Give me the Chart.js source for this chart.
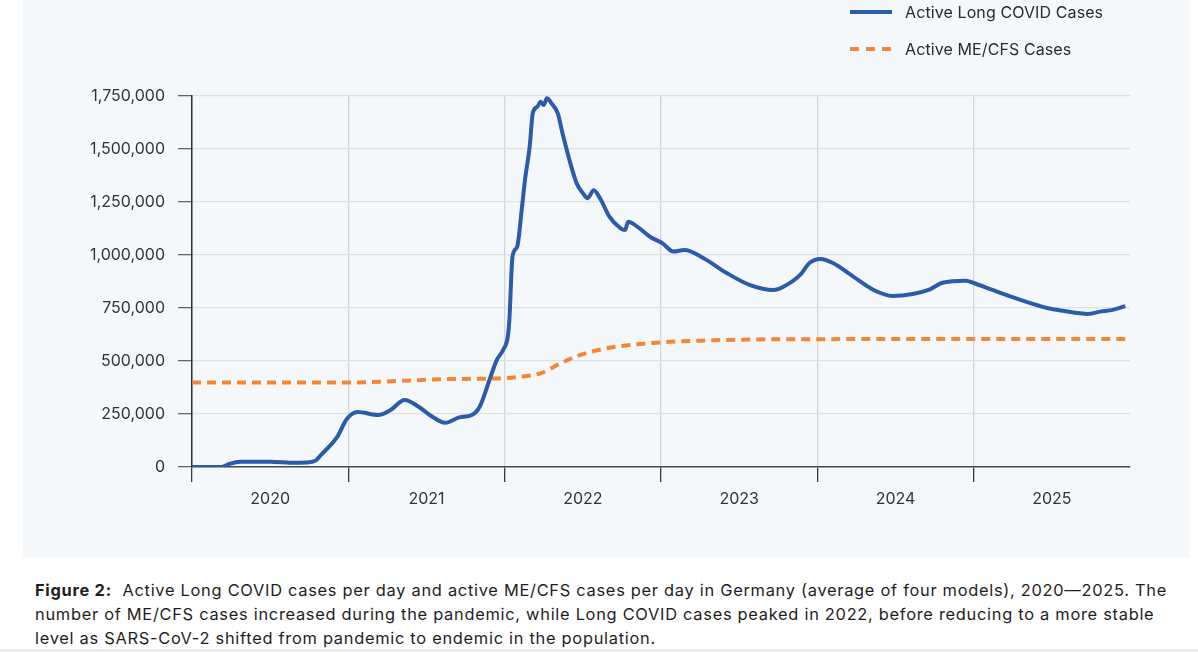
<!DOCTYPE html>
<html>
<head>
<meta charset="utf-8">
<script src="https://cdn.jsdelivr.net/npm/chart.js@4.4.1/dist/chart.umd.min.js"></script>
<style>
  html, body { margin: 0; padding: 0; background: #ffffff; }
  body { width: 1198px; height: 652px; position: relative; overflow: hidden; font-family: Inter, "Noto Sans", sans-serif; }
  #panel { position: absolute; left: 23px; top: 0; width: 1166px; height: 557px; background: #f5f8fa; }
  #chart { position: absolute; left: 0; top: 0; }
  .leg { position: absolute; left: 882px; font-size: 16px; color: #2b2b2b; white-space: nowrap; letter-spacing: 0.1px; }
  .legline { position: absolute; left: 827px; width: 42px; height: 4px; }
  #caption { position: absolute; left: 35px; top: 578px; font-size: 16.4px; letter-spacing: 0.72px; line-height: 24px; color: #1e1e1e; white-space: nowrap; }
  #bottomline { position: absolute; left: 0; top: 649px; width: 1198px; height: 3px; background: #ececec; }
</style>
</head>
<body>
<div id="panel">
  <canvas id="chart" width="1166" height="557"></canvas>
  <div class="legline" style="top:10px;background:#2a5caa;"></div>
  <div class="leg" style="top:2px;">Active Long COVID Cases</div>
  <div class="legline" style="top:47px;background:repeating-linear-gradient(90deg,#f58634 0 9px,transparent 9px 16px);"></div>
  <div class="leg" style="top:39px;">Active ME/CFS Cases</div>
</div>
<div id="caption"><b>Figure 2:</b>&nbsp; Active Long COVID cases per day and active ME/CFS cases per day in Germany (average of four models), 2020—2025. The<br>number of ME/CFS cases increased during the pandemic, while Long COVID cases peaked in 2022, before reducing to a more stable<br>level as SARS-CoV-2 shifted from pandemic to endemic in the population.</div>
<div id="bottomline"></div>
<script>
// ---- data (decimal years, values) ----
const lcYears = [2020.00,2020.19,2020.24,2020.31,2020.50,2020.66,2020.75,2020.79,2020.82,2020.93,2020.99,
  2021.06,2021.19,2021.27,2021.36,2021.45,2021.54,2021.62,2021.71,2021.79,2021.84,2021.91,2021.95,2021.99,
  2022.02,2022.03,2022.05,2022.08,2022.11,2022.13,2022.16,2022.18,2022.21,2022.23,2022.25,2022.27,2022.30,
  2022.34,2022.37,2022.42,2022.46,2022.50,2022.53,2022.57,2022.61,2022.67,2022.74,2022.77,2022.79,2022.85,
  2022.93,2023.01,2023.08,2023.15,2023.27,2023.42,2023.57,2023.72,2023.78,2023.89,2023.95,2024.02,2024.10,
  2024.23,2024.36,2024.48,2024.61,2024.72,2024.80,2024.95,2025.00,2025.12,2025.30,2025.47,2025.57,2025.73,
  2025.81,2025.89,2025.97];
const lcValues = [0,0,15000,25000,25000,20000,22000,30000,53000,143000,226000,
  259000,245000,269000,316000,284000,236000,209000,234000,245000,284000,426000,505000,552000,
  615000,693000,992000,1039000,1220000,1354000,1511000,1670000,1700000,1723000,1707000,1739000,1715000,
  1668000,1574000,1433000,1339000,1292000,1268000,1306000,1268000,1181000,1127000,1118000,1157000,1133000,
  1086000,1055000,1016000,1024000,986000,915000,858000,835000,849000,906000,962000,981000,962000,
  898000,835000,807000,816000,838000,869000,879000,868000,835000,788000,750000,737000,722000,
  733000,741000,759000];
const meYears = [2020.00,2020.50,2021.00,2021.33,2021.65,2021.97,2022.10,2022.23,2022.36,2022.49,2022.62,2022.74,2022.87,2023.00,2023.25,2023.63,2024.00,2025.00,2025.97];
const meValues = [398000,398000,398000,406000,415000,418000,426000,442000,490000,530000,555000,570000,580000,588000,596000,602000,603000,604000,604000];
const yearTicks = [2020,2020.5,2021,2021.5,2022,2022.5,2023,2023.5,2024,2024.5,2025,2025.5,2026];
const yTicks = [0,250000,500000,750000,1000000,1250000,1500000,1750000];

const FONT = { family: 'Inter, "Noto Sans", sans-serif', size: 16 };
const isInt = v => Math.abs(v - Math.round(v)) < 1e-6;

new Chart(document.getElementById('chart'), {
  type: 'line',
  data: {
    datasets: [
      {
        label: 'Active Long COVID Cases',
        data: lcYears.map((x, i) => ({ x, y: lcValues[i] })),
        borderColor: '#2a5caa', borderWidth: 4, pointRadius: 0,
        cubicInterpolationMode: 'monotone', fill: false
      },
      {
        label: 'Active ME/CFS Cases',
        data: meYears.map((x, i) => ({ x, y: meValues[i] })),
        borderColor: '#f58634', borderWidth: 4, borderDash: [9, 6], pointRadius: 0,
        cubicInterpolationMode: 'monotone', fill: false
      }
    ]
  },
  options: {
    responsive: false, animation: false, devicePixelRatio: 1,
    layout: { padding: { top: 96, right: 59, left: 0, bottom: 0 } },
    plugins: { legend: { display: false }, tooltip: { enabled: false } },
    scales: {
      x: {
        type: 'linear', min: 2020, max: 2026,
        afterBuildTicks: s => { s.ticks = yearTicks.map(v => ({ value: v })); },
        afterFit: s => { s.height = 90; },
        border: { color: '#4a4a4a', width: 1.5 },
        grid: {
          color: c => (c.tick && isInt(c.tick.value) && c.tick.value < 2026) ? '#d3d7da' : 'rgba(0,0,0,0)',
          tickColor: c => (c.tick && isInt(c.tick.value) && c.tick.value < 2026) ? '#3a3a3a' : 'rgba(0,0,0,0)',
          tickLength: 15, lineWidth: 1.3
        },
        ticks: {
          autoSkip: false, maxRotation: 0, padding: 8, color: '#333', font: FONT,
          callback: v => isInt(v) ? '' : String(Math.floor(v))
        }
      },
      y: {
        min: 0, max: 1750000,
        afterBuildTicks: s => { s.ticks = yTicks.map(v => ({ value: v })); },
        afterFit: s => { s.width = 169; },
        border: { color: '#2f2f2f', width: 1.5 },
        grid: { color: '#dde1e4', tickColor: '#666', tickLength: 14, lineWidth: 1.3 },
        ticks: {
          padding: 13, color: '#333', font: FONT,
          callback: v => v.toLocaleString('en-US')
        }
      }
    }
  }
});
</script>
</body>
</html>
